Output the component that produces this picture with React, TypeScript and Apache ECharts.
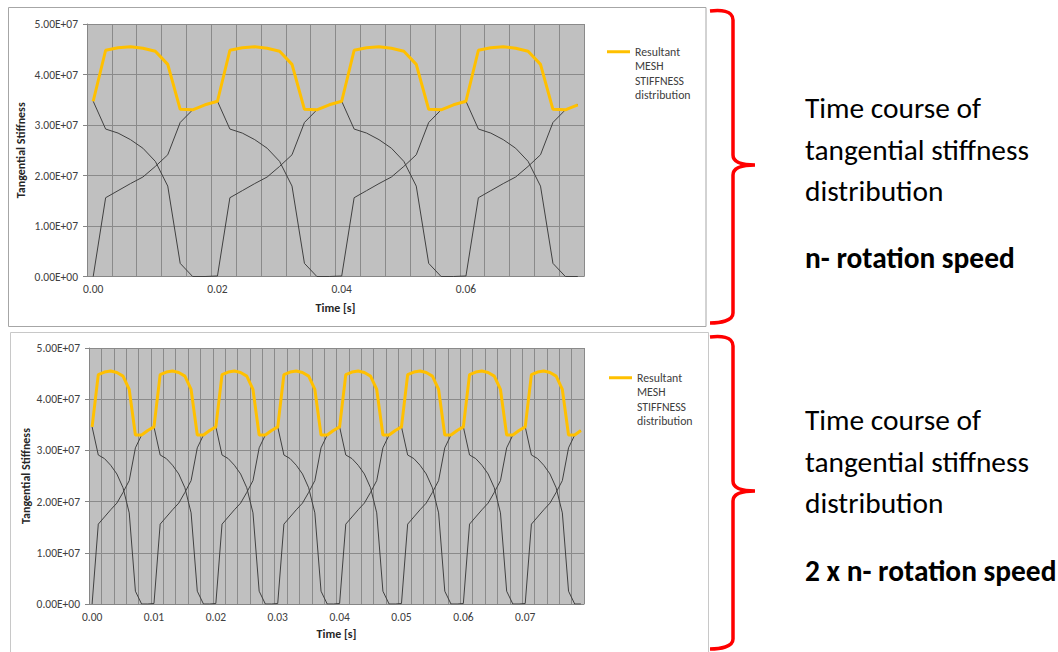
import { useEffect, useRef } from "react";
import * as echarts from "echarts";

// ---------- data (stiffness values in units of 1e6 N/m) ----------
const TIME_N = [
  0.000, 0.002, 0.004, 0.006, 0.008, 0.010, 0.012, 0.014, 0.016, 0.018,
  0.020, 0.022, 0.024, 0.026, 0.028, 0.030, 0.032, 0.034, 0.036, 0.038,
  0.040, 0.042, 0.044, 0.046, 0.048, 0.050, 0.052, 0.054, 0.056, 0.058,
  0.060, 0.062, 0.064, 0.066, 0.068, 0.070, 0.072, 0.074, 0.076, 0.078,
];

const RESULT_N = [
  34.7, 44.8, 45.3, 45.5, 45.2, 44.6, 42.0, 33.1, 33.0, 34.0,
  34.7, 44.8, 45.3, 45.5, 45.2, 44.6, 42.0, 33.1, 33.0, 34.0,
  34.7, 44.8, 45.3, 45.5, 45.2, 44.6, 42.0, 33.1, 33.0, 34.0,
  34.7, 44.8, 45.3, 45.5, 45.2, 44.6, 42.0, 33.1, 33.0, 34.0,
];

const TOOTH_A_N = [
  34.7, 29.2, 28.4, 27.1, 25.4, 22.8, 17.9, 2.6, 0.0, 0.0,
  0.1, 15.6, 17.0, 18.4, 19.7, 21.8, 24.1, 30.5, 33.0, 34.0,
  34.7, 29.2, 28.4, 27.1, 25.4, 22.8, 17.9, 2.6, 0.0, 0.0,
  0.1, 15.6, 17.0, 18.4, 19.7, 21.8, 24.1, 30.5, 33.0, 34.0,
];

const TOOTH_B_N = [
  0.0, 15.6, 17.0, 18.4, 19.7, 21.8, 24.1, 30.5, 33.0, 34.0,
  34.7, 29.2, 28.4, 27.1, 25.4, 22.8, 17.9, 2.6, 0.0, 0.0,
  0.1, 15.6, 17.0, 18.4, 19.7, 21.8, 24.1, 30.5, 33.0, 34.0,
  34.7, 29.2, 28.4, 27.1, 25.4, 22.8, 17.9, 2.6, 0.0, 0.0,
];

const TIME_2N = [
  0.000, 0.001, 0.002, 0.003, 0.004, 0.005, 0.006, 0.007, 0.008, 0.009,
  0.010, 0.011, 0.012, 0.013, 0.014, 0.015, 0.016, 0.017, 0.018, 0.019,
  0.020, 0.021, 0.022, 0.023, 0.024, 0.025, 0.026, 0.027, 0.028, 0.029,
  0.030, 0.031, 0.032, 0.033, 0.034, 0.035, 0.036, 0.037, 0.038, 0.039,
  0.040, 0.041, 0.042, 0.043, 0.044, 0.045, 0.046, 0.047, 0.048, 0.049,
  0.050, 0.051, 0.052, 0.053, 0.054, 0.055, 0.056, 0.057, 0.058, 0.059,
  0.060, 0.061, 0.062, 0.063, 0.064, 0.065, 0.066, 0.067, 0.068, 0.069,
  0.070, 0.071, 0.072, 0.073, 0.074, 0.075, 0.076, 0.077, 0.078, 0.079,
];

const RESULT_2N = [
  34.6, 44.8, 45.3, 45.5, 45.2, 44.5, 41.9, 33.0, 33.0, 33.9,
  34.6, 44.8, 45.3, 45.5, 45.2, 44.5, 41.9, 33.0, 33.0, 33.9,
  34.6, 44.8, 45.3, 45.5, 45.2, 44.5, 41.9, 33.0, 33.0, 33.9,
  34.6, 44.8, 45.3, 45.5, 45.2, 44.5, 41.9, 33.0, 33.0, 33.9,
  34.6, 44.8, 45.3, 45.5, 45.2, 44.5, 41.9, 33.0, 33.0, 33.9,
  34.6, 44.8, 45.3, 45.5, 45.2, 44.5, 41.9, 33.0, 33.0, 33.9,
  34.6, 44.8, 45.3, 45.5, 45.2, 44.5, 41.9, 33.0, 33.0, 33.9,
  34.6, 44.8, 45.3, 45.5, 45.2, 44.5, 41.9, 33.0, 33.0, 33.9,
];

const TOOTH_A_2N = [
  34.6, 29.1, 28.4, 27.1, 25.4, 22.7, 17.8, 2.5, 0.0, 0.0,
  0.1, 15.6, 17.0, 18.4, 19.7, 21.8, 24.1, 30.5, 33.0, 33.9,
  34.6, 29.1, 28.4, 27.1, 25.4, 22.7, 17.8, 2.5, 0.0, 0.0,
  0.1, 15.6, 17.0, 18.4, 19.7, 21.8, 24.1, 30.5, 33.0, 33.9,
  34.6, 29.1, 28.4, 27.1, 25.4, 22.7, 17.8, 2.5, 0.0, 0.0,
  0.1, 15.6, 17.0, 18.4, 19.7, 21.8, 24.1, 30.5, 33.0, 33.9,
  34.6, 29.1, 28.4, 27.1, 25.4, 22.7, 17.8, 2.5, 0.0, 0.0,
  0.1, 15.6, 17.0, 18.4, 19.7, 21.8, 24.1, 30.5, 33.0, 33.9,
];

const TOOTH_B_2N = [
  0.0, 15.6, 17.0, 18.4, 19.7, 21.8, 24.1, 30.5, 33.0, 33.9,
  34.6, 29.1, 28.4, 27.1, 25.4, 22.7, 17.8, 2.5, 0.0, 0.0,
  0.1, 15.6, 17.0, 18.4, 19.7, 21.8, 24.1, 30.5, 33.0, 33.9,
  34.6, 29.1, 28.4, 27.1, 25.4, 22.7, 17.8, 2.5, 0.0, 0.0,
  0.1, 15.6, 17.0, 18.4, 19.7, 21.8, 24.1, 30.5, 33.0, 33.9,
  34.6, 29.1, 28.4, 27.1, 25.4, 22.7, 17.8, 2.5, 0.0, 0.0,
  0.1, 15.6, 17.0, 18.4, 19.7, 21.8, 24.1, 30.5, 33.0, 33.9,
  34.6, 29.1, 28.4, 27.1, 25.4, 22.7, 17.8, 2.5, 0.0, 0.0,
];

const Y_MIN = 0;
const Y_MAX = 50;
const Y_STEP = 10;
const Y_UNIT = 1e6;
const X_LABEL_EVERY = 10;

const LEGEND_NAME = "Resultant MESH STIFFNESS distribution";
const LEGEND_LINES = ["Resultant", "MESH", "STIFFNESS", "distribution"];
const X_TITLE = "Time [s]";
const Y_TITLE = "Tangential Stiffness";
const SIDE_LINES = ["Time course of", "tangential stiffness", "distribution"];
const SIDE_BOLD_TOP = "n- rotation speed";
const SIDE_BOLD_BOTTOM = "2 x n- rotation speed";

// ---------- styling ----------
const FONT = "Carlito, Calibri, Lato, sans-serif";
const YELLOW = "#FFC000";
const DARK = "#404040";
const GRID_LINE = "#8a8a8a";
const PLOT_BG = "#c0c0c0";
const LEG_LH = 14.5;

const BRACE_D =
  "M0,1 C10,0 23,0 23,10 L23,145 C23,152 30,155 45,155 C30,155 23,158 23,165 L23,303 C23,311 10,313 0,313";

let braceRegistered = false;
function ensureBrace() {
  if (braceRegistered) return;
  echarts.graphic.registerShape("brace", echarts.graphic.extendPath(BRACE_D, {}));
  braceRegistered = true;
}

function fmtY(v: number) {
  const s = (v * Y_UNIT).toExponential(2).toUpperCase();
  return s.replace(/E([+-])(\d)$/, "E$10$2");
}

function xAxis(gi: number, data: number[], margin: number, nameGap: number) {
  return {
    type: "category",
    gridIndex: gi,
    data: data.map((t) => String(t)),
    boundaryGap: true,
    name: X_TITLE,
    nameLocation: "middle",
    nameGap,
    nameTextStyle: { fontFamily: FONT, fontSize: 12, fontWeight: "bold", color: "#262626" },
    axisLine: { show: true, lineStyle: { color: "#868686", width: 1 } },
    axisTick: { show: false },
    axisLabel: {
      interval: X_LABEL_EVERY - 1,
      formatter: (v: string) => Number(v).toFixed(2),
      fontFamily: FONT,
      fontSize: 11.5,
      color: DARK,
      margin,
    },
    splitLine: { show: true, interval: 1, lineStyle: { color: GRID_LINE, width: 1 } },
  };
}

function yAxis(gi: number, nameGap: number) {
  return {
    type: "value",
    gridIndex: gi,
    min: Y_MIN,
    max: Y_MAX,
    interval: Y_STEP,
    name: Y_TITLE,
    nameLocation: "middle",
    nameRotate: 90,
    nameGap,
    nameTextStyle: { fontFamily: FONT, fontSize: 12, fontWeight: "bold", color: "#262626" },
    axisLine: { show: true, lineStyle: { color: "#868686", width: 1 } },
    axisTick: { show: true, length: 4, lineStyle: { color: "#868686" } },
    axisLabel: { formatter: fmtY, fontFamily: FONT, fontSize: 11.5, color: DARK, margin: 9 },
    splitLine: { show: true, lineStyle: { color: GRID_LINE, width: 1 } },
  };
}

function series(xi: number, name: string, data: number[], color: string, width: number, z: number) {
  return {
    type: "line",
    name,
    xAxisIndex: xi,
    yAxisIndex: xi,
    data,
    symbol: "none",
    lineStyle: { color, width },
    itemStyle: { color },
    z,
  };
}

function legend(left: number, top: number) {
  return {
    left,
    top,
    padding: 0,
    orient: "vertical",
    data: [LEGEND_NAME],
    icon: "rect",
    itemWidth: 23,
    itemHeight: 3,
    itemGap: 0,
    selectedMode: false,
    // three empty lines above keep the first text line level with the icon
    formatter: () => "\n\n\n" + LEGEND_LINES.join("\n"),
    textStyle: {
      fontFamily: FONT,
      fontSize: 11.8,
      color: DARK,
      lineHeight: LEG_LH,
    },
  };
}

function sideText(x: number, ys: number[], bold: string, yBold: number) {
  const els: any[] = SIDE_LINES.map((t, i) => ({
    type: "text",
    style: {
      text: t,
      x,
      y: ys[i],
      fontFamily: FONT,
      fontSize: 29.4,
      fill: "#000",
      verticalAlign: "middle",
      align: "left",
    },
  }));
  els.push({
    type: "text",
    style: {
      text: bold,
      x,
      y: yBold,
      fontFamily: FONT,
      fontSize: 29.4,
      fontWeight: "bold",
      fill: "#000",
      verticalAlign: "middle",
      align: "left",
    },
  });
  return els;
}

export default function App() {
  const ref = useRef<HTMLDivElement>(null);
  useEffect(() => {
    if (!ref.current) return;
    ensureBrace();
    const chart = echarts.init(ref.current, undefined, { renderer: "svg" });
    chart.setOption({
      animation: false,
      backgroundColor: "#ffffff",
      grid: [
        { left: 87, top: 24, width: 497, height: 252.5, show: true, backgroundColor: PLOT_BG, borderWidth: 0 },
        { left: 89, top: 348, width: 495, height: 256, show: true, backgroundColor: PLOT_BG, borderWidth: 0 },
      ],
      xAxis: [xAxis(0, TIME_N, 6, 25), xAxis(1, TIME_2N, 7, 24)],
      yAxis: [yAxis(0, 60), yAxis(1, 57)],
      legend: [legend(607, 1), legend(609, 327)],
      series: [
        series(0, "Tooth pair 1 (n)", TOOTH_A_N, DARK, 1, 2),
        series(0, "Tooth pair 2 (n)", TOOTH_B_N, DARK, 1, 2),
        series(0, LEGEND_NAME, RESULT_N, YELLOW, 3, 3),
        series(1, "Tooth pair 1 (2n)", TOOTH_A_2N, DARK, 1, 2),
        series(1, "Tooth pair 2 (2n)", TOOTH_B_2N, DARK, 1, 2),
        series(1, LEGEND_NAME, RESULT_2N, YELLOW, 3, 3),
      ],
      graphic: [
        {
          type: "rect",
          silent: true,
          z: 100,
          shape: { x: 8.5, y: 7.5, width: 697.5, height: 319 },
          style: { fill: "none", stroke: "#a6a6a6", lineWidth: 1 },
        },
        {
          type: "rect",
          silent: true,
          z: 100,
          shape: { x: 10.5, y: 332.5, width: 698, height: 330 },
          style: { fill: "none", stroke: "#c8c8c8", lineWidth: 1 },
        },
        {
          type: "brace",
          x: 710,
          y: 10,
          silent: true,
          style: { fill: "none", stroke: "#ff0000", lineWidth: 3.5 },
        },
        {
          type: "brace",
          x: 710,
          y: 336,
          silent: true,
          style: { fill: "none", stroke: "#ff0000", lineWidth: 3.5 },
        },
        ...sideText(805, [108, 150, 191], SIDE_BOLD_TOP, 258),
        ...sideText(805, [420, 462, 503], SIDE_BOLD_BOTTOM, 571),
      ],
    });
    return () => chart.dispose();
  }, []);
  return (
    <div
      ref={ref}
      style={{ position: "fixed", left: 0, top: 0, width: 1058, height: 652 }}
    />
  );
}
